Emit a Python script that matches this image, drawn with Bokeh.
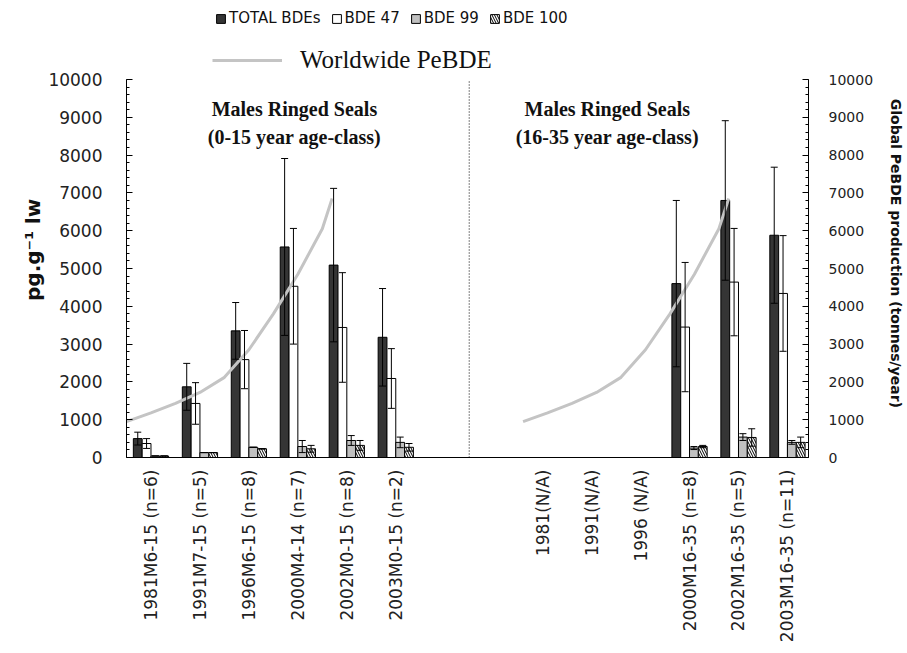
import math
from bokeh.plotting import figure
from bokeh.models import (ColumnDataSource, Range1d, LinearAxis, SingleIntervalTicker, FixedTicker,
                          Whisker, TeeHead, Label, Legend, LegendItem, NumeralTickFormatter)
from bokeh.embed import file_html
from bokeh.resources import INLINE

NA = float("nan")

# ---- data ----
categories = ["1981M6-15 (n=6)", "1991M7-15 (n=5)", "1996M6-15 (n=8)", "2000M4-14 (n=7)",
              "2002M0-15 (n=8)", "2003M0-15 (n=2)", "", "",
              "1981(N/A)", "1991(N/A)", "1996 (N/A)", "2000M16-35 (n=8)",
              "2002M16-35 (n=5)", "2003M16-35 (n=11)"]
total    = [500, 1870, 3350, 5570, 5090, 3180, NA, NA, NA, NA, NA, 4600, 6800, 5880]
total_sd = [170, 620, 750, 2340, 2030, 1290, NA, NA, NA, NA, NA, 2200, 2110, 1800]
bde47    = [370, 1430, 2590, 4530, 3440, 2090, NA, NA, NA, NA, NA, 3450, 4640, 4340]
bde47_sd = [130, 550, 770, 1530, 1450, 790, NA, NA, NA, NA, NA, 1710, 1420, 1530]
bde99    = [40, 130, 270, 290, 450, 400, NA, NA, NA, NA, NA, 250, 540, 400]
bde99_sd = [0, 0, 0, 160, 130, 140, NA, NA, NA, NA, NA, 40, 90, 50]
bde100   = [40, 130, 230, 230, 320, 270, NA, NA, NA, NA, NA, 290, 530, 400]
bde100_sd = [0, 0, 0, 90, 130, 100, NA, NA, NA, NA, NA, 30, 230, 140]

# Worldwide PeBDE production curve (tonnes/year), drawn in each panel
pebde_pos  = [0.0, 0.5, 1.0, 1.5, 2.0, 2.5, 3.0, 3.5, 4.0, 4.2]
pebde_prod = [950, 1180, 1430, 1720, 2120, 2850, 3800, 4850, 6050, 6850]
panel_start = [0.0, 8.1]

series = [("TOTAL BDEs", total, total_sd), ("BDE 47", bde47, bde47_sd),
          ("BDE 99", bde99, bde99_sd), ("BDE 100", bde100, bde100_sd)]

# ---- layout ----
W, H = 907, 653
FL, FR, FT, FB = 126, 815, 79, 457          # visible plotting box (pixels)
YMAX = 10000
ytop = YMAX * FB / (FB - FT)                # frame extends to top of canvas
NB = "\u00a0"

p = figure(width=W, height=H, output_backend="svg", toolbar_location=None,
           x_range=Range1d(0, 13.93), y_range=Range1d(0, ytop),
           min_border_left=FL, min_border_right=W - FR, min_border_top=0,
           min_border_bottom=H - FB)
p.outline_line_color = None
p.xgrid.visible = False
p.ygrid.visible = False
p.background_fill_color = "white"
p.border_fill_color = "white"
p.extra_y_ranges = {"prod": Range1d(0, ytop)}

offsets = [-0.27, -0.09, 0.09, 0.27]
bw = 0.18
styles = [dict(fill_color="#353535"), dict(fill_color="white"), dict(fill_color="#c0c0c0"),
          dict(fill_color="white", hatch_pattern="left_diagonal_line", hatch_scale=5,
               hatch_color="black", hatch_weight=1)]

renderers = []
for (name, vals, sds), off, st in zip(series, offsets, styles):
    xs, tops, ups, lows = [], [], [], []
    for i, (v, s) in enumerate(zip(vals, sds)):
        if v == v:
            xs.append(i + 0.5 + off)
            tops.append(v)
            ups.append(v + s)
            lows.append(max(v - s, 0))
    src = ColumnDataSource(dict(x=xs, top=tops, upper=ups, lower=lows))
    r = p.vbar(x="x", top="top", width=bw, source=src, line_color="black", line_width=1, **st)
    renderers.append(r)
    w = Whisker(source=src, base="x", upper="upper", lower="lower", line_color="black",
                line_width=1, level="overlay",
                upper_head=TeeHead(size=7, line_color="black", line_width=1),
                lower_head=TeeHead(size=7, line_color="black", line_width=1))
    p.add_layout(w)

line_r = None
for start in panel_start:
    line_r = p.line([start + x for x in pebde_pos], pebde_prod, y_range_name="prod",
                    line_color="#c4c4c4", line_width=3)

# dotted separator between the two age classes
p.segment(x0=[7.0], y0=[0], x1=[7.0], y1=[YMAX], line_color="black", line_width=1,
          line_dash="1 2")

# x axis
ticks = [i + 0.5 for i, c in enumerate(categories) if c]
p.xaxis.ticker = FixedTicker(ticks=ticks)
p.xaxis.major_label_overrides = {i + 0.5: c for i, c in enumerate(categories) if c}
p.xaxis.major_label_orientation = math.pi / 2
p.xaxis.major_tick_in = 0
p.xaxis.major_tick_out = 0
p.xaxis.minor_tick_line_color = None
p.xaxis.axis_line_color = "black"
p.xaxis.major_label_text_font = "DejaVu Sans"
p.xaxis.major_label_text_font_size = "17px"
p.xaxis.major_label_text_color = "#222222"
p.xaxis.major_label_standoff = 12

# left y axis
yl = p.yaxis[0]
yl.bounds = (0, YMAX)
yl.ticker = SingleIntervalTicker(interval=1000, num_minor_ticks=5)
yl.formatter = NumeralTickFormatter(format="0")
yl.major_tick_in = 6
yl.major_tick_out = 0
yl.minor_tick_in = 3
yl.minor_tick_out = 0
yl.axis_line_color = "black"
yl.major_label_text_font = "DejaVu Sans"
yl.major_label_text_font_size = "17px"
yl.major_label_text_color = "#222222"
yl.major_label_standoff = 24
# no-break spaces shift the centred titles onto the plotting box
yl.axis_label = "pg.g\u207b\u00b9 lw" + NB * 6
yl.axis_label_text_font = "DejaVu Sans"
yl.axis_label_text_font_style = "bold"
yl.axis_label_text_font_size = "20px"
yl.axis_label_text_color = "#111111"
yl.axis_label_standoff = 0

# right y axis
yr = LinearAxis(y_range_name="prod",
                axis_label=NB * 10 + "Global PeBDE production (tonnes/year)")
yr.bounds = (0, YMAX)
yr.ticker = SingleIntervalTicker(interval=1000, num_minor_ticks=5)
yr.formatter = NumeralTickFormatter(format="0")
yr.major_tick_in = 6
yr.major_tick_out = 0
yr.minor_tick_in = 3
yr.minor_tick_out = 0
yr.axis_line_color = "black"
yr.major_label_text_font = "DejaVu Sans"
yr.major_label_text_font_size = "14px"
yr.major_label_text_color = "#222222"
yr.major_label_standoff = 20
yr.axis_label_text_font = "DejaVu Sans"
yr.axis_label_text_font_style = "bold"
yr.axis_label_text_font_size = "14px"
yr.axis_label_text_color = "#111111"
yr.axis_label_standoff = 12
p.add_layout(yr, "right")

# panel titles
for cx, lines in [(3.43, ["Males Ringed Seals", "(0-15 year age-class)"]),
                  (9.82, ["Males Ringed Seals", "(16-35 year age-class)"])]:
    for ly, t in zip([9220, 8470], lines):
        p.add_layout(Label(x=cx, y=ly, text=t, text_align="center", text_baseline="middle",
                           text_font="Liberation Serif", text_font_style="bold",
                           text_font_size="20px", text_color="#111111"))

# legends (inside the extended frame, above the plotting box)
leg1 = Legend(items=[LegendItem(label=n, renderers=[r]) for (n, _, _), r in zip(series, renderers)],
              orientation="horizontal", location=(89, FB - 28), glyph_width=11, glyph_height=11,
              label_standoff=3, spacing=10, padding=0, margin=0, label_height=20,
              label_text_font="DejaVu Sans", label_text_font_size="15px",
              label_text_color="#111111",
              background_fill_alpha=0, border_line_alpha=0)
leg2 = Legend(items=[LegendItem(label="Worldwide PeBDE", renderers=[line_r])],
              orientation="horizontal", location=(86, FB - 74), glyph_width=70, glyph_height=24,
              label_standoff=18, padding=0, margin=0, label_height=24,
              label_text_font="Liberation Serif", label_text_font_size="25px",
              label_text_color="#111111",
              background_fill_alpha=0, border_line_alpha=0)
p.add_layout(leg1)
p.add_layout(leg2)

open("out.html", "w").write(file_html(p, INLINE))
